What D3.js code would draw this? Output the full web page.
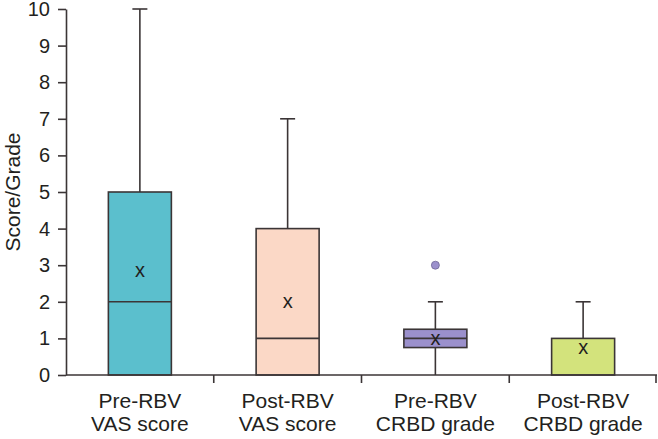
<!DOCTYPE html>
<html lang="en">
<head>
  <meta charset="UTF-8" />
  <title>Score/Grade box plot</title>
  <style>
    body { margin: 0; background: #fff; }
    svg text { font-family: "Liberation Sans", Arial, sans-serif; fill: #231f20; }
  </style>
</head>
<body>
  <div id="chart"></div>
  <script src="https://cdn.jsdelivr.net/npm/d3@7"></script>
  <script>
    // Data
    const categories = ["Pre-RBV|VAS score", "Post-RBV|VAS score", "Pre-RBV|CRBD grade", "Post-RBV|CRBD grade"];
    const lowWhisker = [0, 0, 0, 0];
    const q1 = [0, 0, 0.75, 0];
    const median = [2, 1, 1, 0];
    const q3 = [5, 4, 1.25, 1];
    const highWhisker = [10, 7, 2, 2];
    const means = [2.85, 2.02, 1.01, 0.75];
    const outliers = [[], [], [3], []];
    const colors = ["#5bbfcd", "#fbd8c6", "#9b90cc", "#d3e37c"];
    const yTicks = [0, 1, 2, 3, 4, 5, 6, 7, 8, 9, 10];

    const width = 658, height = 439;
    const margin = { top: 9, right: 1, bottom: 64, left: 66 };
    const ink = "#3b3536";

    const svg = d3.select("#chart").append("svg")
      .attr("width", width)
      .attr("height", height);

    const x = d3.scaleBand()
      .domain(categories)
      .range([margin.left, width - margin.right])
      .paddingInner(0)
      .paddingOuter(0);

    const y = d3.scaleLinear()
      .domain([0, 10])
      .range([height - margin.bottom, margin.top]);

    const boxW = 63;
    const capW = 15;
    const idx = d => categories.indexOf(d);

    // Boxes
    const g = svg.selectAll(".box")
      .data(categories)
      .enter()
      .append("g")
      .attr("class", "box")
      .attr("transform", d => `translate(${x(d) + x.bandwidth() / 2},0)`);

    // upper whisker + cap
    g.append("line")
      .attr("x1", 0).attr("x2", 0)
      .attr("y1", d => y(q3[idx(d)]))
      .attr("y2", d => y(highWhisker[idx(d)]))
      .attr("stroke", ink).attr("stroke-width", 1.6);
    g.append("line")
      .attr("x1", -capW / 2).attr("x2", capW / 2)
      .attr("y1", d => y(highWhisker[idx(d)]))
      .attr("y2", d => y(highWhisker[idx(d)]))
      .attr("stroke", ink).attr("stroke-width", 1.6);

    // lower whisker (only where it is visible)
    g.filter(d => lowWhisker[idx(d)] < q1[idx(d)])
      .append("line")
      .attr("x1", 0).attr("x2", 0)
      .attr("y1", d => y(q1[idx(d)]))
      .attr("y2", d => y(lowWhisker[idx(d)]))
      .attr("stroke", ink).attr("stroke-width", 1.6);

    // box
    g.append("rect")
      .attr("x", -boxW / 2)
      .attr("width", boxW)
      .attr("y", d => y(q3[idx(d)]))
      .attr("height", d => y(q1[idx(d)]) - y(q3[idx(d)]))
      .attr("fill", d => colors[idx(d)])
      .attr("stroke", ink).attr("stroke-width", 1.6);

    // median
    g.filter(d => median[idx(d)] > q1[idx(d)])
      .append("line")
      .attr("x1", -boxW / 2).attr("x2", boxW / 2)
      .attr("y1", d => y(median[idx(d)]))
      .attr("y2", d => y(median[idx(d)]))
      .attr("stroke", ink).attr("stroke-width", 1.6);

    // mean marker
    g.append("text")
      .attr("x", 0)
      .attr("y", d => y(means[idx(d)]))
      .attr("dy", "0.33em")
      .attr("text-anchor", "middle")
      .style("font-size", "20px")
      .text("x");

    // outliers
    g.selectAll(".outlier")
      .data(d => outliers[idx(d)].map(v => ({ v, c: colors[idx(d)] })))
      .enter()
      .append("circle")
      .attr("cx", 0)
      .attr("cy", d => y(d.v))
      .attr("r", 4)
      .attr("fill", d => d.c)
      .attr("stroke", "#6f6796").attr("stroke-width", 0.8);

    // Y axis
    const yAxis = svg.append("g")
      .attr("transform", `translate(${margin.left},0)`)
      .call(d3.axisLeft(y).tickValues(yTicks).tickSize(8).tickPadding(8).tickSizeOuter(0));
    yAxis.select(".domain").attr("stroke", ink).attr("stroke-width", 1.6);
    yAxis.selectAll(".tick line").attr("stroke", ink).attr("stroke-width", 1.6);
    yAxis.selectAll(".tick text").style("font-size", "20px").attr("fill", "#231f20");

    // X axis baseline with ticks at band boundaries
    const xAxisY = y(0);
    svg.append("line")
      .attr("x1", margin.left).attr("x2", width - margin.right)
      .attr("y1", xAxisY).attr("y2", xAxisY)
      .attr("stroke", ink).attr("stroke-width", 1.6);
    const bounds = categories.slice(1).map(c => x(c)).concat([width - margin.right - 1]);
    svg.selectAll(".xtick")
      .data(bounds)
      .enter()
      .append("line")
      .attr("x1", d => d).attr("x2", d => d)
      .attr("y1", xAxisY).attr("y2", xAxisY + 8)
      .attr("stroke", ink).attr("stroke-width", 1.6);

    // Category labels (two lines)
    const lab = svg.selectAll(".xlab")
      .data(categories)
      .enter()
      .append("text")
      .attr("text-anchor", "middle")
      .style("font-size", "21px")
      .attr("transform", d => `translate(${x(d) + x.bandwidth() / 2},408)`);
    lab.append("tspan").attr("x", 0).attr("dy", 0).text(d => d.split("|")[0]);
    lab.append("tspan").attr("x", 0).attr("dy", 23).text(d => d.split("|")[1]);

    // Y axis title
    svg.append("text")
      .attr("transform", `translate(20,${(y(0) + y(10)) / 2}) rotate(-90)`)
      .attr("text-anchor", "middle")
      .style("font-size", "21px")
      .text("Score/Grade");
  </script>
</body>
</html>
